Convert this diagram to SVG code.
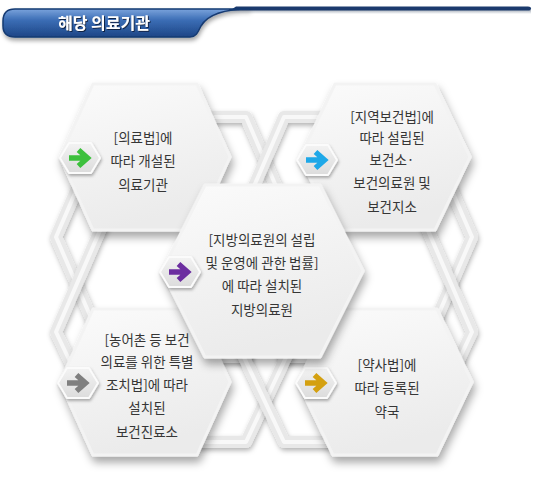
<svg xmlns="http://www.w3.org/2000/svg" width="533" height="487" viewBox="0 0 533 487">
<defs>
<style>
.t{font-family:"Noto Sans CJK KR","Noto Sans",sans-serif;font-size:13.5px;fill:#363636;text-anchor:middle}
.hx{fill:url(#hexG);stroke:#f3f3f3;stroke-width:3;stroke-linejoin:round;filter:url(#sh)}
.ro{fill:none;stroke:#e8e8e8;stroke-width:12;stroke-linejoin:round;filter:url(#rsh)}
.ri{fill:none;stroke:#f8f8f8;stroke-width:4;stroke-linejoin:round}
.bd{fill:url(#badgeG);stroke:#fbfbfb;stroke-width:2;stroke-linejoin:round;filter:url(#bsh)}
.ar{fill:none;stroke-width:5.5;stroke-linejoin:miter}
</style>
<linearGradient id="tabG" x1="0" y1="0" x2="0" y2="1">
<stop offset="0" stop-color="#7aa3dc"/><stop offset="0.4" stop-color="#3b6db5"/><stop offset="1" stop-color="#1d4686"/>
</linearGradient>
<linearGradient id="lineSh" x1="0" y1="0" x2="0" y2="1">
<stop offset="0" stop-color="#a9b0bb"/><stop offset="1" stop-color="#ffffff"/>
</linearGradient>
<linearGradient id="hexG" x1="0" y1="0" x2="0.3" y2="1">
<stop offset="0" stop-color="#fbfbfb"/><stop offset="1" stop-color="#ebebeb"/>
</linearGradient>
<linearGradient id="badgeG" x1="0" y1="0" x2="0" y2="1">
<stop offset="0" stop-color="#f3f3f3"/><stop offset="1" stop-color="#dcdcdc"/>
</linearGradient>
<filter id="sh" x="-20%" y="-20%" width="150%" height="150%"><feDropShadow dx="2" dy="6" stdDeviation="4.5" flood-color="#000" flood-opacity="0.34"/></filter>
<filter id="rsh" x="-20%" y="-20%" width="150%" height="150%"><feDropShadow dx="1" dy="2.5" stdDeviation="2.5" flood-color="#000" flood-opacity="0.3"/></filter>
<filter id="bsh" x="-30%" y="-30%" width="170%" height="170%"><feDropShadow dx="1" dy="2" stdDeviation="1.5" flood-color="#000" flood-opacity="0.3"/></filter>
<filter id="tsh" x="-20%" y="-50%" width="140%" height="200%"><feDropShadow dx="1" dy="3" stdDeviation="2" flood-color="#000" flood-opacity="0.35"/></filter>
<filter id="txs"><feDropShadow dx="1" dy="1" stdDeviation="0.6" flood-color="#0a1a3a" flood-opacity="0.9"/></filter>
<polygon id="badge" points="-20,0 -11,-15 11,-15 20,0 11,15 -11,15"/>
<path id="arrow" d="M-11,0 H7 M-1.5,-8 L7.5,0 L-1.5,8"/>
<polygon id="rTL" points="56,237 108,117 246,117 298,237 246,357 108,357"/>
<polygon id="rTR" points="232,237 284,117 420,117 472,237 420,357 284,357"/>
<polygon id="rBL" points="56,332 108,212 246,212 298,332 246,442 108,442"/>
<polygon id="rBR" points="232,332 284,212 420,212 472,332 420,442 284,442"/>
</defs>

<g id="header">
<rect x="200" y="10" width="331" height="4" fill="url(#lineSh)"/>
<path d="M236,6.5 H528 Q531,6.5 531,8.5 Q531,10.5 528,10.5 H230 Z" fill="#1b3a6d"/>
<path d="M15,9 H250 C225,9 208,14 201,26 C198,32 196,37 190,37 H15 Q3,37 3,26 V21 Q3,9 15,9 Z" fill="url(#tabG)" stroke="#163a72" stroke-width="1.5" filter="url(#tsh)"/>
<text x="104" y="28.5" font-family="Noto Sans CJK KR,Noto Sans,sans-serif" font-size="16" font-weight="700" fill="#ffffff" text-anchor="middle" filter="url(#txs)">해당 의료기관</text>
</g>

<g id="frames">
<use href="#rTL" class="ro"/><use href="#rTL" class="ri"/>
<use href="#rTR" class="ro"/><use href="#rTR" class="ri"/>
<use href="#rBL" class="ro"/><use href="#rBL" class="ri"/>
<use href="#rBR" class="ro"/><use href="#rBR" class="ri"/>
</g>

<g id="node-bl">
<polygon class="hx" points="60,382 93,309 197,309 230,382 197,455 93,455"/>
<use href="#badge" class="bd" x="78" y="383"/>
<use href="#arrow" class="ar" stroke="#7f7f7f" x="78" y="383"/>
<text class="t" x="147" y="344.5">[농어촌 등 보건</text>
<text class="t" x="147" y="367">의료를 위한 특별</text>
<text class="t" x="147" y="390">조치법]에 따라</text>
<text class="t" x="147" y="413">설치된</text>
<text class="t" x="147" y="436.5">보건진료소</text>
</g>

<g id="node-br">
<polygon class="hx" points="298,382 333,309 437,309 472,382 437,455 333,455"/>
<use href="#badge" class="bd" x="316" y="383"/>
<use href="#arrow" class="ar" stroke="#d4a010" x="316" y="383"/>
<text class="t" x="387" y="369.5">[약사법]에</text>
<text class="t" x="387" y="392.5">따라 등록된</text>
<text class="t" x="387" y="416.5">약국</text>
</g>

<g id="node-tl">
<polygon class="hx" points="60,157 93,84 197,84 230,157 197,230 93,230"/>
<use href="#badge" class="bd" x="80" y="158"/>
<use href="#arrow" class="ar" stroke="#3cc03c" x="80" y="158"/>
<text class="t" x="143" y="142.5">[의료법]에</text>
<text class="t" x="143" y="166">따라 개설된</text>
<text class="t" x="143" y="189.5">의료기관</text>
</g>

<g id="node-tr">
<polygon class="hx" points="300,157 335,84 435,84 470,157 435,230 335,230"/>
<use href="#badge" class="bd" x="317" y="160"/>
<use href="#arrow" class="ar" stroke="#1ea8e8" x="317" y="160"/>
<text class="t" x="392" y="121.5">[지역보건법]에</text>
<text class="t" x="392" y="142.5">따라 설립된</text>
<text class="t" x="392" y="164.5">보건소·</text>
<text class="t" x="392" y="187.5">보건의료원 및</text>
<text class="t" x="392" y="211.5">보건지소</text>
</g>

<g id="node-center">
<polygon class="hx" points="162,271 205,185 320,185 363,271 320,357 205,357"/>
<use href="#badge" class="bd" x="180" y="272"/>
<use href="#arrow" class="ar" stroke="#6c2ea0" x="180" y="272"/>
<text class="t" x="262" y="244.5">[지방의료원의 설립</text>
<text class="t" x="262" y="267.5">및 운영에 관한 법률]</text>
<text class="t" x="262" y="291">에 따라 설치된</text>
<text class="t" x="262" y="314.5">지방의료원</text>
</g>
</svg>
